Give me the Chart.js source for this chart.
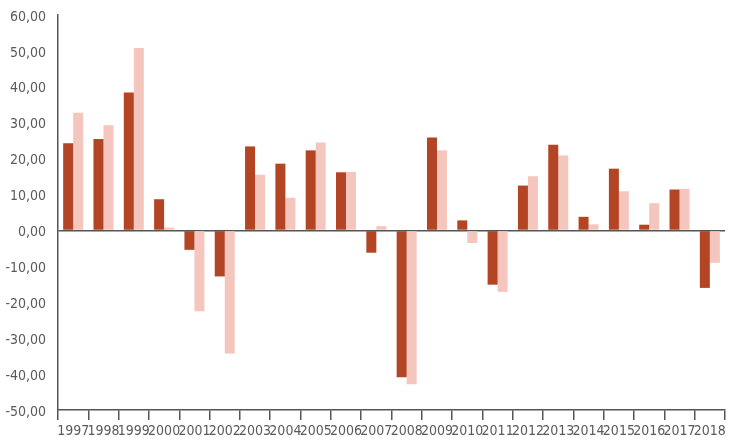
<!DOCTYPE html>
<html>
<head>
<meta charset="utf-8">
<script src="https://cdn.jsdelivr.net/npm/chart.js@4/dist/chart.umd.min.js"></script>
<style>
  html, body { margin: 0; padding: 0; background: #fff; }
  #wrap { width: 734px; height: 437px; }
</style>
</head>
<body>
<div id="wrap"><canvas id="myChart"></canvas></div>
<script>
var years = ['1997','1998','1999','2000','2001','2002','2003','2004','2005','2006','2007',
             '2008','2009','2010','2011','2012','2013','2014','2015','2016','2017','2018'];
var seriesDark = [24.3, 25.5, 38.4, 8.7, -5.4, -12.8, 23.4, 18.6, 22.3, 16.2, -6.2,
                  -40.9, 25.9, 2.8, -15.1, 12.5, 23.9, 3.8, 17.2, 1.6, 11.4, -16.0];
var seriesLight = [32.8, 29.3, 50.8, 0.8, -22.5, -34.3, 15.5, 9.1, 24.5, 16.3, 1.2,
                   -42.8, 22.3, -3.5, -17.1, 15.1, 20.9, 1.7, 10.9, 7.6, 11.6, -9.0];
var yMin = -50, yMax = 60, yStep = 10;

var fontFam = '"DejaVu Sans Condensed", sans-serif';
var axisColor = '#555555';

var ctx = document.getElementById('myChart');
var myChart = new Chart(ctx, {
    type: 'bar',
    data: {
        labels: years,
        datasets: [{
            data: seriesDark,
            backgroundColor: '#B34525',
            barPercentage: 1,
            categoryPercentage: 0.66
        }, {
            data: seriesLight,
            backgroundColor: '#F4C6BD',
            barPercentage: 1,
            categoryPercentage: 0.66
        }]
    },
    options: {
        responsive: true,
        maintainAspectRatio: false,
        animation: false,
        layout: {
            padding: { left: 0, top: 15, right: 9, bottom: 0 }
        },
        plugins: {
            legend: { display: false },
            tooltip: { enabled: false }
        },
        scales: {
            x: {
                afterFit: function (scale) { scale.height = 27; },
                border: { display: true, color: axisColor, width: 1.5 },
                grid: {
                    offset: true,
                    drawOnChartArea: false,
                    drawTicks: true,
                    tickLength: 10,
                    color: axisColor,
                    lineWidth: 1.5
                },
                ticks: {
                    color: '#5a5a5a',
                    font: { family: fontFam, size: 14 },
                    padding: 3,
                    maxRotation: 0,
                    autoSkip: false
                }
            },
            y: {
                min: yMin,
                max: yMax,
                // fixed width, and keep tick padding from pushing the top down
                afterFit: function (scale) {
                    scale.width = 58;
                    scale.paddingTop = 10;
                    scale.paddingBottom = 10;
                },
                border: { display: true, color: axisColor, width: 1.5 },
                grid: {
                    drawTicks: false,
                    color: function (c) { return c.tick && c.tick.value === 0 ? axisColor : 'rgba(0,0,0,0)'; },
                    lineWidth: 1.5
                },
                ticks: {
                    stepSize: yStep,
                    color: '#5a5a5a',
                    font: { family: fontFam, size: 14 },
                    padding: 12,
                    labelOffset: 2,
                    callback: function (v) { return v.toFixed(2).replace('.', ','); }
                }
            }
        }
    }
});
</script>
</body>
</html>
